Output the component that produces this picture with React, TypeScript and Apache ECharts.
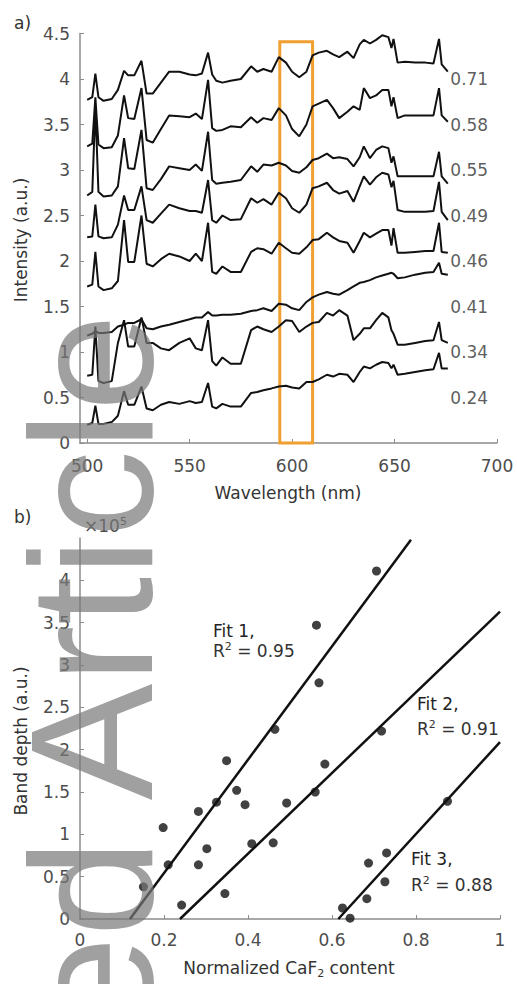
import React, { useEffect, useRef } from 'react';
import * as echarts from 'echarts';

// ---------- Panel a: spectra ----------
const wavelengths = [500, 502.5, 504, 505.5, 508, 512, 515, 518, 520, 523, 526.5, 529, 532, 536, 540, 545, 550, 553, 556, 559, 561, 563, 566, 570, 575, 580, 583, 586, 590, 593.5, 597, 600, 603.5, 607, 610, 613, 617, 620, 623, 627, 630, 633, 635, 638, 641, 644, 647, 648.5, 649.5, 651.5, 655, 660, 665, 669, 671.7, 673, 676];

const spec071 = [3.77, 3.80, 4.06, 3.80, 3.76, 3.78, 3.88, 4.09, 4.04, 4.04, 4.20, 3.84, 3.84, 3.96, 4.08, 4.08, 4.05, 4.04, 4.06, 4.29, 4.05, 3.98, 3.96, 3.98, 4.00, 4.14, 4.08, 4.11, 4.08, 4.24, 4.18, 4.08, 4.02, 4.08, 4.26, 4.29, 4.31, 4.27, 4.24, 4.30, 4.23, 4.38, 4.43, 4.39, 4.43, 4.48, 4.46, 4.34, 4.44, 4.18, 4.19, 4.18, 4.18, 4.17, 4.44, 4.16, 4.08];
const spec058 = [3.26, 3.29, 3.80, 3.28, 3.24, 3.25, 3.38, 3.82, 3.57, 3.56, 3.90, 3.33, 3.30, 3.45, 3.60, 3.59, 3.58, 3.62, 3.56, 3.99, 3.46, 3.43, 3.44, 3.48, 3.47, 3.58, 3.52, 3.57, 3.55, 3.68, 3.60, 3.45, 3.37, 3.50, 3.70, 3.73, 3.77, 3.68, 3.57, 3.64, 3.70, 3.66, 3.90, 3.79, 3.82, 3.88, 3.88, 3.70, 3.80, 3.57, 3.60, 3.60, 3.60, 3.60, 3.90, 3.60, 3.53];
const spec055 = [2.72, 2.76, 3.70, 2.76, 2.71, 2.72, 2.82, 3.35, 3.02, 3.01, 3.44, 2.80, 2.78, 2.90, 3.04, 3.02, 3.00, 3.06, 2.99, 3.42, 2.89, 2.85, 2.86, 2.87, 2.89, 3.04, 2.98, 3.06, 3.05, 3.08, 3.05, 2.99, 2.97, 3.03, 3.11, 3.13, 3.18, 3.13, 3.14, 3.12, 3.04, 3.14, 3.26, 3.13, 3.22, 3.26, 3.24, 3.08, 3.15, 2.93, 2.93, 2.93, 2.93, 2.93, 3.20, 2.93, 2.85];
const spec049 = [2.26, 2.27, 2.62, 2.27, 2.25, 2.26, 2.40, 2.72, 2.56, 2.56, 2.82, 2.45, 2.42, 2.52, 2.62, 2.58, 2.55, 2.55, 2.53, 2.89, 2.45, 2.42, 2.50, 2.45, 2.46, 2.69, 2.64, 2.68, 2.62, 2.75, 2.69, 2.58, 2.53, 2.62, 2.80, 2.82, 2.86, 2.78, 2.74, 2.77, 2.65, 2.82, 2.93, 2.84, 2.92, 2.97, 2.95, 2.81, 2.88, 2.56, 2.54, 2.54, 2.54, 2.55, 2.87, 2.54, 2.45];
const spec046 = [1.72, 1.74, 2.10, 1.72, 1.68, 1.70, 1.78, 2.45, 1.99, 1.99, 2.50, 1.97, 1.94, 2.02, 2.08, 2.05, 2.00, 2.08, 2.00, 2.42, 1.88, 1.86, 1.94, 1.88, 1.88, 2.10, 2.14, 2.13, 2.08, 2.20, 2.14, 2.09, 2.08, 2.15, 2.23, 2.24, 2.31, 2.26, 2.22, 2.20, 2.09, 2.22, 2.31, 2.26, 2.30, 2.34, 2.34, 2.17, 2.36, 2.09, 2.09, 2.10, 2.11, 2.11, 2.42, 2.10, 2.09];
const spec041 = [1.18, 1.20, 1.23, 1.21, 1.21, 1.22, 1.28, 1.30, 1.32, 1.32, 1.36, 1.26, 1.25, 1.28, 1.30, 1.33, 1.36, 1.38, 1.38, 1.44, 1.40, 1.40, 1.41, 1.41, 1.42, 1.45, 1.46, 1.48, 1.45, 1.53, 1.52, 1.48, 1.46, 1.55, 1.60, 1.63, 1.66, 1.64, 1.63, 1.68, 1.72, 1.76, 1.77, 1.79, 1.82, 1.84, 1.86, 1.87, 1.86, 1.81, 1.82, 1.85, 1.87, 1.88, 1.98, 1.86, 1.85];
const spec034 = [0.74, 0.75, 1.28, 0.68, 0.66, 0.68, 1.10, 1.35, 1.06, 1.06, 1.38, 1.10, 1.10, 1.04, 1.02, 1.10, 1.15, 1.04, 1.02, 1.35, 0.90, 0.85, 0.94, 0.87, 0.87, 1.24, 1.28, 1.25, 1.22, 1.28, 1.35, 1.34, 1.22, 1.28, 1.32, 1.33, 1.43, 1.40, 1.46, 1.40, 1.13, 1.20, 1.26, 1.26, 1.35, 1.43, 1.38, 1.24, 1.20, 1.08, 1.08, 1.10, 1.12, 1.13, 1.33, 1.13, 1.10];
const spec024 = [0.20, 0.22, 0.41, 0.21, 0.21, 0.23, 0.30, 0.57, 0.42, 0.42, 0.62, 0.38, 0.36, 0.42, 0.45, 0.43, 0.46, 0.44, 0.45, 0.66, 0.40, 0.38, 0.43, 0.40, 0.40, 0.55, 0.56, 0.58, 0.60, 0.62, 0.63, 0.61, 0.60, 0.67, 0.67, 0.70, 0.75, 0.73, 0.76, 0.75, 0.67, 0.78, 0.84, 0.82, 0.86, 0.89, 0.88, 0.82, 0.86, 0.75, 0.76, 0.78, 0.80, 0.81, 0.99, 0.82, 0.82];

const spectra = [spec071, spec058, spec055, spec049, spec046, spec041, spec034, spec024];
const contentLabels = ['0.71', '0.58', '0.55', '0.49', '0.46', '0.41', '0.34', '0.24'];
const contentLabelY = [4.0, 3.5, 3.0, 2.5, 2.0, 1.5, 1.0, 0.5];
const contentLabelX = 676;
const bandBox = [594, 610, 4.41]; // nm start, nm end, top intensity
const wavelengthTicks = [500, 550, 600, 650, 700];

// ---------- Panel b: band depth (x10^5) ----------
const fit1Points = [[0.151, 0.38], [0.198, 1.08], [0.21, 0.64], [0.282, 1.27], [0.325, 1.38], [0.349, 1.87], [0.373, 1.52], [0.464, 2.24], [0.563, 3.47], [0.569, 2.79], [0.706, 4.11]];
const fit2Points = [[0.242, 0.165], [0.282, 0.64], [0.302, 0.83], [0.345, 0.30], [0.393, 1.35], [0.409, 0.89], [0.46, 0.90], [0.492, 1.37], [0.56, 1.50], [0.583, 1.83], [0.718, 2.22]];
const fit3Points = [[0.625, 0.13], [0.643, 0.01], [0.683, 0.24], [0.687, 0.66], [0.726, 0.44], [0.73, 0.78], [0.875, 1.39]];
const fit1Line = [[0.119, 0], [0.788, 4.48]];
const fit2Line = [[0.238, 0], [1.0, 3.63]];
const fit3Line = [[0.615, 0], [1.0, 2.09]];
const bandTicks = [0, 0.5, 1, 1.5, 2, 2.5, 3, 3.5, 4];

const FONT = '"DejaVu Sans", "Liberation Sans", sans-serif';
const TICK_COLOR = '#4d4d4d';
const AXIS_COLOR = '#8c8c8c';
const TEXT_COLOR = '#333';

function buildOption() {
  const axisLine = { show: true, lineStyle: { color: AXIS_COLOR, width: 1.5 } };
  const axisTick = { show: true, inside: true, length: 4, lineStyle: { color: AXIS_COLOR } };
  const axisLabel = { color: TICK_COLOR, fontSize: 17, fontFamily: FONT };

  const series: any[] = spectra.map((s, k) => ({
    type: 'line',
    xAxisIndex: 0,
    yAxisIndex: 0,
    data: wavelengths.map((w, i) => [w, s[i]]),
    showSymbol: false,
    symbol: 'none',
    lineStyle: { color: '#111', width: 2 },
    z: 3,
    ...(k === 0
      ? {
          markArea: {
            silent: true,
            itemStyle: { color: 'rgba(0,0,0,0)', borderColor: '#F0A030', borderWidth: 3 },
            data: [[{ xAxis: bandBox[0], yAxis: 0 }, { xAxis: bandBox[1], yAxis: bandBox[2] }]],
          },
        }
      : {}),
  }));

  series.push({
    type: 'scatter',
    xAxisIndex: 0,
    yAxisIndex: 0,
    data: contentLabelY.map((y, i) => [contentLabelX, y, contentLabels[i]]),
    symbolSize: 1,
    itemStyle: { color: 'rgba(0,0,0,0)' },
    label: {
      show: true,
      position: 'right',
      distance: 2,
      formatter: (p: any) => p.data[2],
      color: TEXT_COLOR,
      fontSize: 17,
      fontFamily: FONT,
    },
    z: 4,
  });

  [fit1Line, fit2Line, fit3Line].forEach((ln) => {
    series.push({
      type: 'line',
      xAxisIndex: 1,
      yAxisIndex: 1,
      data: ln,
      showSymbol: false,
      symbol: 'none',
      lineStyle: { color: '#111', width: 2.5 },
      z: 3,
    });
  });
  [fit1Points, fit2Points, fit3Points].forEach((pts) => {
    series.push({
      type: 'scatter',
      xAxisIndex: 1,
      yAxisIndex: 1,
      data: pts,
      symbolSize: 9,
      itemStyle: { color: '#111' },
      z: 4,
    });
  });

  const txt = (x: number, y: number, text: string, extra: any = {}, el: any = {}) => ({
    type: 'text',
    x,
    y,
    z: 50,
    ...el,
    style: {
      text,
      fill: TEXT_COLOR,
      font: `17px ${FONT}`,
      textAlign: 'left',
      textVerticalAlign: 'middle',
      verticalAlign: 'middle',
      ...extra,
    },
  });

  const supRich = {
    sup: { fontSize: 11, fontFamily: FONT, fill: TEXT_COLOR, color: TEXT_COLOR, padding: [0, 0, 9, 0] },
    sub: { fontSize: 11, fontFamily: FONT, fill: TEXT_COLOR, color: TEXT_COLOR, padding: [11, 0, 0, 0] },
    n: { fontSize: 17, fontFamily: FONT, fill: TEXT_COLOR, color: TEXT_COLOR },
  };

  const graphic: any[] = [
    txt(14, 23, 'a)'),
    txt(14, 517, 'b)'),
    txt(21, 240, 'Intensity (a.u.)', { textAlign: 'center' }, { rotation: Math.PI / 2 }),
    txt(288, 493, 'Wavelength (nm)', { textAlign: 'center' }),
    txt(21, 741, 'Band depth (a.u.)', { textAlign: 'center' }, { rotation: Math.PI / 2 }),
    txt(289, 968, '', { textAlign: 'center', text: '{n|Normalized CaF}{sub|2}{n| content}', rich: supRich }),
    txt(84, 526, '', { text: '{n|×10}{sup|5}', rich: { ...supRich, n: { ...supRich.n, fill: TICK_COLOR, color: TICK_COLOR }, sup: { ...supRich.sup, fill: TICK_COLOR, color: TICK_COLOR } } }),
    txt(213, 631, 'Fit 1,', { fill: '#222' }),
    txt(213, 651, '', { text: '{n|R}{sup|2}{n| = 0.95}', rich: supRich }),
    txt(417, 704, 'Fit 2,', { fill: '#222' }),
    txt(417, 729, '', { text: '{n|R}{sup|2}{n| = 0.91}', rich: supRich }),
    txt(411, 859, 'Fit 3,', { fill: '#222' }),
    txt(411, 885, '', { text: '{n|R}{sup|2}{n| = 0.88}', rich: supRich }),
    {
      type: 'text',
      x: 91,
      y: 314,
      rotation: Math.PI / 2,
      z: 100,
      silent: true,
      style: {
        text: 'Accepted Article',
        font: '175px "Liberation Sans", Arial, sans-serif',
        fill: 'rgba(120,120,120,0.7)',
        textAlign: 'right',
        textVerticalAlign: 'middle',
        verticalAlign: 'middle',
      },
    },
  ];

  return {
    animation: false,
    backgroundColor: '#fff',
    grid: [
      { left: 80, top: 33.5, width: 417, height: 409.5, containLabel: false },
      { left: 80, top: 538, width: 420, height: 381, containLabel: false },
    ],
    xAxis: [
      {
        gridIndex: 0,
        type: 'value',
        min: 496.5,
        max: 700,
        axisLine,
        axisTick: { ...axisTick, customValues: wavelengthTicks },
        axisLabel: { ...axisLabel, margin: 14, customValues: wavelengthTicks },
        splitLine: { show: false },
      },
      {
        gridIndex: 1,
        type: 'value',
        min: 0,
        max: 1,
        interval: 0.2,
        axisLine,
        axisTick,
        axisLabel: { ...axisLabel, margin: 12 },
        splitLine: { show: false },
      },
    ],
    yAxis: [
      {
        gridIndex: 0,
        type: 'value',
        min: 0,
        max: 4.5,
        interval: 0.5,
        axisLine,
        axisTick,
        axisLabel: { ...axisLabel, margin: 10 },
        splitLine: { show: false },
      },
      {
        gridIndex: 1,
        type: 'value',
        min: 0,
        max: 4.5,
        axisLine,
        axisTick: { ...axisTick, customValues: bandTicks },
        axisLabel: { ...axisLabel, margin: 10, customValues: bandTicks },
        splitLine: { show: false },
      },
    ],
    series,
    graphic,
  };
}

export default function App() {
  const ref = useRef<HTMLDivElement>(null);
  useEffect(() => {
    if (!ref.current) return;
    const chart = echarts.init(ref.current, null, { renderer: 'svg' });
    chart.setOption(buildOption() as any);
    return () => chart.dispose();
  }, []);
  return (
    <div
      ref={ref}
      style={{ position: 'absolute', left: 0, top: 0, width: 517, height: 984, background: '#fff' }}
    />
  );
}
